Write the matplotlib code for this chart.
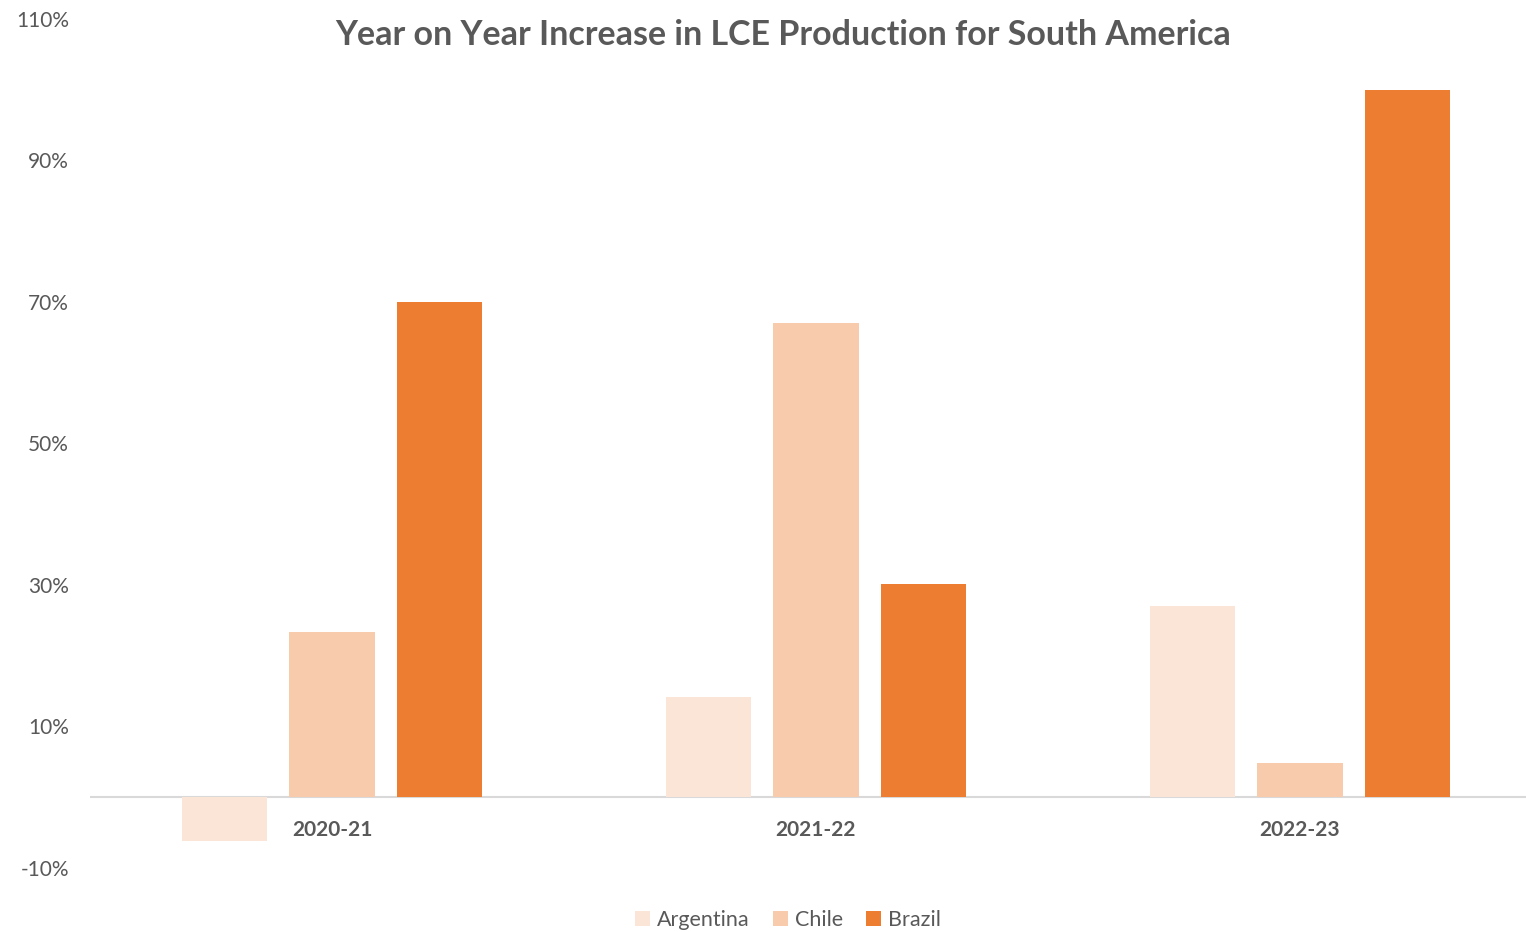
import numpy as np
import matplotlib
matplotlib.use("Agg")
import matplotlib.pyplot as plt

plt.rcParams['font.family'] = ['Lato', 'DejaVu Sans']

periods = ["2020-21", "2021-22", "2022-23"]
countries = ["Argentina", "Chile", "Brazil"]
argentina = [-6.2, 14.1, 27.1]
chile = [23.3, 67.1, 4.8]
brazil = [70.0, 30.2, 100.0]
colors = ["#FBE5D6", "#F8CBAD", "#ED7D31"]
yticks = [-10, 10, 30, 50, 70, 90, 110]

grey = "#595959"

fig = plt.figure(figsize=(15.26, 9.32), dpi=100)
W, H = 1526, 932
ax = fig.add_axes([90 / W, (H - 868) / H, 1452 / W, (868 - 19) / H])

x = np.arange(len(periods))
pitch = 0.222
width = 0.176
for k, (name, vals, c) in enumerate(zip(countries, [argentina, chile, brazil], colors)):
    ax.bar(x + (k - 1) * pitch, vals, width=width, color=c, label=name, zorder=2)

ax.axhline(0, color="#D9D9D9", linewidth=1.5, zorder=1)

ax.set_xlim(-0.5, 2.5)
ax.set_ylim(-10, 110)
ax.set_yticks(yticks)
ax.set_yticklabels([f"{v}%" for v in yticks], fontsize=15, color=grey)
ax.tick_params(axis="y", length=0, pad=15)
ax.set_xticks([])
for s in ax.spines.values():
    s.set_visible(False)

for i, p in enumerate(periods):
    ax.text(i, -4.6, p, ha="center", va="center", fontsize=15, fontweight="bold", color=grey)

fig.text(783 / W, 1 - 35 / H, "Year on Year Increase in LCE Production for South America",
         ha="center", va="center", fontsize=24.5, fontweight="bold", color=grey)

fig.legend(loc="center", bbox_to_anchor=(788 / W, 1 - 920 / H), ncol=3, frameon=False,
           fontsize=15.5, labelcolor=grey, handlelength=0.7, handleheight=0.7,
           handletextpad=0.3, columnspacing=1.1)

fig.savefig("out.png", dpi=100)
